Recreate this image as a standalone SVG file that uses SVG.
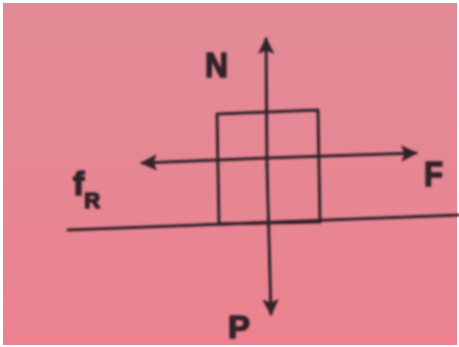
<svg xmlns="http://www.w3.org/2000/svg" width="459" height="347" viewBox="0 0 459 347">
  <style>
    .ln { fill: none; stroke: #33202a; stroke-width: 3; stroke-linecap: round; stroke-linejoin: round; }
    .lbl { font-family: "Liberation Sans", Arial, sans-serif; font-weight: bold; fill: #33202a; stroke: #33202a; stroke-width: 1.6; stroke-linejoin: round; }
  </style>
  <defs>
    <linearGradient id="bg" x1="0" y1="0" x2="0" y2="1">
      <stop offset="0" stop-color="#e18b97"/>
      <stop offset="1" stop-color="#ec828f"/>
    </linearGradient>
    <filter id="soft" x="-5%" y="-5%" width="110%" height="110%">
      <feGaussianBlur stdDeviation="0.9"/>
    </filter>
    <marker id="ah" viewBox="0 0 10 10" refX="9" refY="5" markerWidth="5.5" markerHeight="5.5" orient="auto" markerUnits="strokeWidth">
      <path d="M0,0 L10,5 L0,10 L2,5 Z" fill="#33202a"/>
    </marker>
  </defs>
  <rect x="0" y="0" width="459" height="347" fill="#ffffff"/>
  <rect x="3" y="3" width="454" height="342" fill="url(#bg)"/>
  <g filter="url(#soft)">
    <g id="ground">
      <line class="ln" x1="68" y1="230" x2="459" y2="215"/>
    </g>
    <g id="block">
      <polygon class="ln" points="217,114 318,110 320,222 219,224"/>
    </g>
    <g id="connectors">
      <line class="ln" x1="267" y1="166" x2="266" y2="39" marker-end="url(#ah)"/>
      <line class="ln" x1="267" y1="166" x2="271" y2="314" marker-end="url(#ah)"/>
      <line class="ln" x1="267" y1="158" x2="416" y2="153" marker-end="url(#ah)"/>
      <line class="ln" x1="267" y1="158" x2="142" y2="163" marker-end="url(#ah)"/>
    </g>
    <g id="label-N"><text class="lbl" x="205" y="77" font-size="35" textLength="23" lengthAdjust="spacingAndGlyphs">N</text></g>
    <g id="label-F"><text class="lbl" x="424" y="186" font-size="35" textLength="19" lengthAdjust="spacingAndGlyphs">F</text></g>
    <g id="label-P"><text class="lbl" x="228" y="338" font-size="32" textLength="22" lengthAdjust="spacingAndGlyphs">P</text></g>
    <g id="label-fR"><text class="lbl" x="73" y="195" font-size="34">f<tspan font-size="22" dy="13">R</tspan></text></g>
  </g>
</svg>
